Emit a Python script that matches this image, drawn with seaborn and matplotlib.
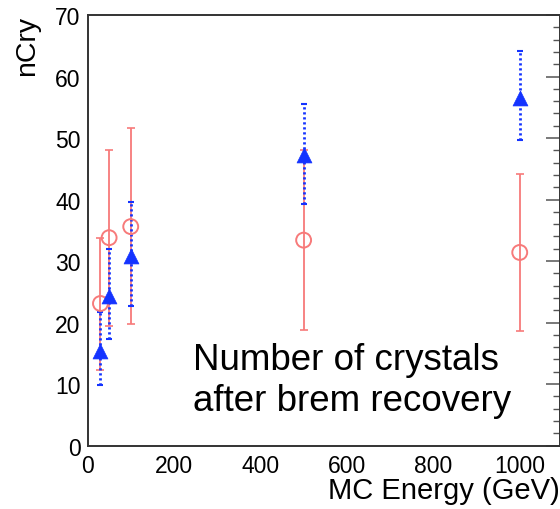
import matplotlib
matplotlib.use("Agg")
import matplotlib.pyplot as plt
from matplotlib.ticker import MultipleLocator
import numpy as np
import pandas as pd
import seaborn as sns

# Beam energies (GeV)
energy = [30, 50, 100, 500, 1000]

# Crystal count, open circles: mean with lower / upper band edge
ncry_open = [23.1, 33.8, 35.6, 33.4, 31.4]
ncry_open_low = [12.3, 19.5, 19.8, 18.8, 18.7]
ncry_open_high = [33.7, 48.1, 51.7, 48.0, 44.1]

# Crystal count, filled triangles: mean with lower / upper band edge
ncry_brem = [15.4, 24.4, 30.8, 47.3, 56.5]
ncry_brem_low = [9.8, 17.3, 22.7, 39.2, 49.7]
ncry_brem_high = [21.7, 32.0, 39.6, 55.5, 64.1]

x_ticks = [0, 200, 400, 600, 800, 1000]
y_ticks = [0, 10, 20, 30, 40, 50, 60, 70]

RED = "#f77a7a"
BLUE = "#1433ff"
AXIS = "#333333"

df_open = pd.DataFrame({"E": energy, "n": ncry_open,
                        "lo": ncry_open_low, "hi": ncry_open_high})
df_brem = pd.DataFrame({"E": energy, "n": ncry_brem,
                        "lo": ncry_brem_low, "hi": ncry_brem_high})

sns.set_theme(style="white")
plt.rcParams["font.family"] = ["Liberation Sans", "DejaVu Sans"]

fig = plt.figure(figsize=(5.6, 5.1), dpi=100)
ax = fig.add_axes([87.5 / 560, 63.4 / 510, 472 / 560, 430.6 / 510])

# error bands
ax.errorbar(df_open["E"], df_open["n"],
            yerr=[df_open["n"] - df_open["lo"], df_open["hi"] - df_open["n"]],
            fmt="none", ecolor=RED, elinewidth=1.3, capsize=3, capthick=1.2,
            zorder=2)
eb = ax.errorbar(df_brem["E"], df_brem["n"],
                 yerr=[df_brem["n"] - df_brem["lo"], df_brem["hi"] - df_brem["n"]],
                 fmt="none", ecolor=BLUE, elinewidth=2.0, capsize=2.2, capthick=1.5,
                 zorder=3)
eb[2][0].set_linestyle((0, (0.8, 1.0)))

# markers
sns.scatterplot(data=df_open, x="E", y="n", marker="o", s=115,
                facecolor="none", edgecolor=RED, color=RED, linewidth=1.4,
                ax=ax, zorder=4)
sns.scatterplot(data=df_brem, x="E", y="n", marker="^", s=115,
                color=BLUE, edgecolor=BLUE, linewidth=0.5, ax=ax, zorder=5)

ax.set_xlim(0, 1092)
ax.set_ylim(0, 70)
ax.set_xticks(x_ticks)
ax.set_yticks(y_ticks)
ax.xaxis.set_minor_locator(MultipleLocator(50))
ax.yaxis.set_minor_locator(MultipleLocator(2))

ax.tick_params(which="both", direction="in", right=True, top=False,
               labelsize=16.5, color="#555555", labelcolor="black")
ax.tick_params(which="major", length=10, width=1.1)
ax.tick_params(which="minor", length=5, width=1.0)
ax.tick_params(axis="y", pad=5)
ax.tick_params(axis="x", pad=6)

for s in ax.spines.values():
    s.set_color(AXIS)
    s.set_linewidth(1.4)

ax.set_xlabel("MC Energy (GeV)", fontsize=21, loc="right", labelpad=-1,
              color="black")
ax.set_ylabel("nCry", fontsize=20.5, loc="top", labelpad=11, color="black")

ax.text(245, 16.9, "Number of crystals\nafter brem recovery",
        fontsize=26.5, ha="left", va="top", linespacing=1.22, color="black")

fig.savefig("out.png", dpi=100)
